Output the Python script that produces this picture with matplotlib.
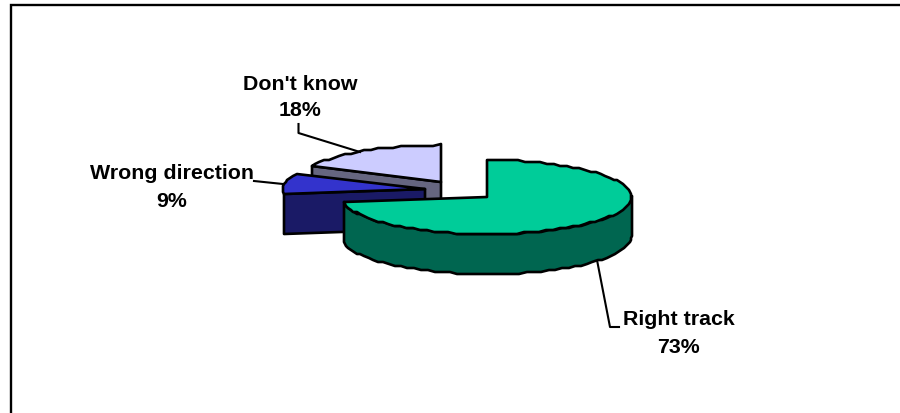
import numpy as np
import matplotlib
matplotlib.use('Agg')
import matplotlib.pyplot as plt
from matplotlib.patches import Polygon

labels = ['Right track', 'Wrong direction', "Don't know"]
values = [73, 9, 18]

top_colors = ['#00CC99', '#3333CC', '#CCCCFF']
wall_colors = ['#006650', '#1A1A66', '#666680']
# apex of each exploded slice, in pixels
apex = [(487, 197), (425, 189), (441, 182)]
radii = [144.5, 142, 143]
ry, depth = 37, 40

plt.rcParams['font.family'] = ['Liberation Sans', 'DejaVu Sans']


def arc(center, rx, a0, a1):
    # angles run clockwise from 12 o'clock, in degrees
    n = max(int(abs(a1 - a0) / 3), 2)
    t = np.radians(np.linspace(a0, a1, n))
    x = center[0] + rx * np.sin(t)
    y = center[1] - ry * np.cos(t)
    # the original has a coarse, stepped outline
    return np.column_stack((np.round(x), np.round(y / 2) * 2))


fig = plt.figure(figsize=(9, 4.13), dpi=100)
ax = fig.add_axes([0, 0, 1, 1])
ax.set_xlim(0, 900)
ax.set_ylim(413, 0)
ax.axis('off')

# frame, open on the right and at the bottom
ax.plot([11, 11, 900], [413, 5, 5], color='black', lw=1.7, solid_joinstyle='miter')

ends = np.cumsum(values) / sum(values) * 360
starts = ends - np.array(values) / sum(values) * 360
edge = dict(edgecolor='black', lw=1.9, joinstyle='round')

# back slice first, green one last so it sits in front
for i in [2, 1, 0]:
    a0, a1 = starts[i], ends[i]
    cx, cy = apex[i]
    outer = arc((cx, cy), radii[i], a0, a1)
    if i == 0:
        low = arc((cx, cy), radii[i], 90, a1)
        wall = np.vstack((low, (low + [0, depth])[::-1]))
        ax.add_patch(Polygon(wall, closed=True, facecolor=wall_colors[i], zorder=5, **edge))
    else:
        # cut face that shows below the slice
        p = outer[0]
        wall = [p, (cx, cy), (cx, cy + depth), (p[0], p[1] + depth)]
        ax.add_patch(Polygon(wall, closed=True, facecolor=wall_colors[i], zorder=3 if i == 1 else 1, **edge))
    top = np.vstack(((cx, cy), outer))
    ax.add_patch(Polygon(top, closed=True, facecolor=top_colors[i], zorder={0: 6, 1: 4, 2: 2}[i], **edge))

# leader lines
ax.plot([597, 610, 619], [260, 327, 327], color='black', lw=1.5)
ax.plot([254, 283], [181, 184], color='black', lw=1.5)
ax.plot([298.5, 298.5, 360], [124, 133, 152], color='black', lw=1.5)

label_pos = [(679, 325), (171.5, 179), (300.5, 90)]
line_gap = [28, 28, 26]
for name, val, (x, y), gap in zip(labels, values, label_pos, line_gap):
    ax.text(x, y, name, ha='center', va='baseline', fontsize=15.4, fontweight='bold', color='black')
    ax.text(x, y + gap, f'{val}%', ha='center', va='baseline', fontsize=15.4, fontweight='bold', color='black')

fig.savefig('out.png', dpi=100)
